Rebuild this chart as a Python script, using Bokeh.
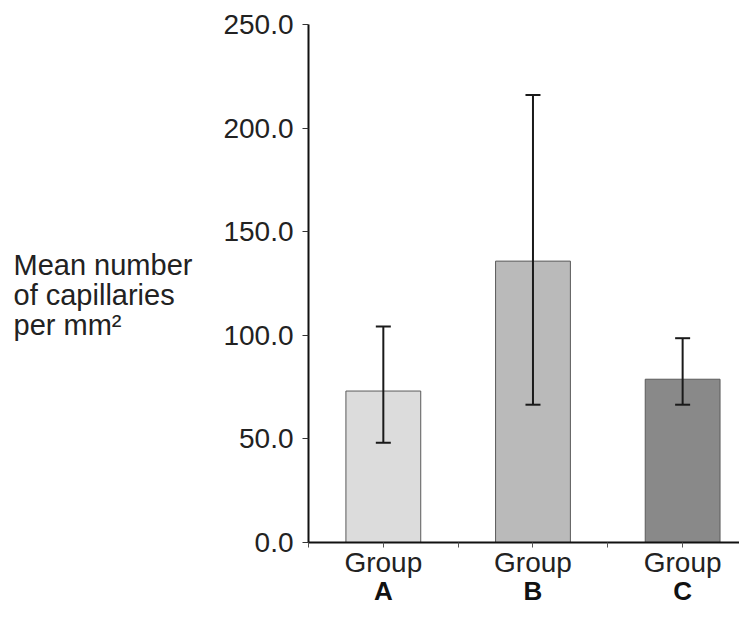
from bokeh.plotting import figure
from bokeh.layouts import row
from bokeh.models import (Range1d, FixedTicker, LinearAxis, Whisker,
                          ColumnDataSource, TeeHead, NumeralTickFormatter)
from bokeh.core.properties import value
from bokeh.embed import file_html
from bokeh.resources import INLINE

# ---- data ----
categories = ["Group A", "Group B", "Group C"]
group_word = ["Group", "Group", "Group"]
group_letter = ["A", "B", "C"]
means = [73.1, 135.8, 78.8]
err_upper = [104.2, 216.0, 98.6]
err_lower = [48.1, 66.5, 66.5]
bar_colors = ["#dcdcdc", "#bababa", "#898989"]
y_ticks = [0, 50, 100, 150, 200, 250]
y_label_lines = ["Mean number", "of capillaries", "per mm\u00b2"]
y_label_levels = [134.0, 119.3, 105.2]

FONT = "Liberation Sans"
TOP = 24
BOTTOM = 65
H = 608

yr = Range1d(0, 250)

xpos = [i + 0.5 for i in range(len(categories))]
src = ColumnDataSource(dict(x=xpos, top=means, upper=err_upper, lower=err_lower,
                            color=bar_colors))

# ---- left panel: the horizontal y-axis title ----
lp = figure(width=220, height=H, output_backend="svg", toolbar_location=None,
            x_range=Range1d(0, 220), y_range=yr,
            min_border_left=0, min_border_right=0, min_border_top=TOP,
            min_border_bottom=BOTTOM, x_axis_type=None, y_axis_type=None)
lp.outline_line_color = None
lp.xgrid.visible = False
lp.ygrid.visible = False
lp.text(x=[13] * 3, y=y_label_levels, text=y_label_lines,
        text_font=value(FONT), text_font_size=value("29px"),
        text_color="#222222", text_align="left", text_baseline="alphabetic")

# ---- chart ----
p = figure(width=519, height=H, output_backend="svg", toolbar_location=None,
           x_range=Range1d(0, 2.88), y_range=yr,
           min_border_left=84, min_border_right=0, min_border_top=TOP,
           min_border_bottom=BOTTOM, x_axis_type=None, y_axis_type=None)
p.outline_line_color = None
p.background_fill_color = "white"
p.border_fill_color = "white"
p.xgrid.visible = False
p.ygrid.visible = False

p.vbar(x="x", top="top", width=0.5, bottom=0, source=src, fill_color="color",
       line_color="#5a5a5a", line_width=1)

w = Whisker(base="x", upper="upper", lower="lower", source=src,
            line_color="#1a1a1a", line_width=2, level="overlay",
            upper_head=TeeHead(size=15, line_color="#1a1a1a", line_width=2),
            lower_head=TeeHead(size=15, line_color="#1a1a1a", line_width=2))
p.add_layout(w)

# y axis
yax = LinearAxis(ticker=FixedTicker(ticks=y_ticks),
                 formatter=NumeralTickFormatter(format="0.0"))
yax.axis_line_width = 2
yax.axis_line_color = "#111111"
yax.major_tick_out = 6
yax.major_tick_in = 0
yax.major_tick_line_width = 1
yax.major_tick_line_color = "#333333"
yax.minor_tick_line_color = None
yax.major_label_standoff = 9
yax.major_label_text_font = FONT
yax.major_label_text_font_size = "28px"
yax.major_label_text_color = "#222222"
p.add_layout(yax, "left")

# x axis: ticks between groups, "Group" labels
xax = LinearAxis(ticker=FixedTicker(ticks=[0, 1, 2] + xpos))
xax.major_label_overrides = {**{0: "", 1: "", 2: ""},
                             **{x: g for x, g in zip(xpos, group_word)}}
xax.axis_line_width = 2
xax.axis_line_color = "#111111"
xax.major_tick_out = 5
xax.major_tick_in = 0
xax.major_tick_line_color = "#555555"
xax.minor_tick_line_color = None
xax.major_label_standoff = -1
xax.major_label_text_font = FONT
xax.major_label_text_font_size = "28px"
xax.major_label_text_color = "#222222"
p.add_layout(xax, "below")

# bold group letters on a second row
xax2 = LinearAxis(ticker=FixedTicker(ticks=xpos))
xax2.major_label_overrides = {x: l for x, l in zip(xpos, group_letter)}
xax2.axis_line_color = None
xax2.major_tick_line_color = None
xax2.minor_tick_line_color = None
xax2.major_label_standoff = -11
xax2.major_label_text_font = FONT
xax2.major_label_text_font_style = "bold"
xax2.major_label_text_font_size = "26px"
xax2.major_label_text_color = "#111111"
p.add_layout(xax2, "below")

layout = row(lp, p, spacing=0)
open("out.html", "w").write(file_html(layout, INLINE))
